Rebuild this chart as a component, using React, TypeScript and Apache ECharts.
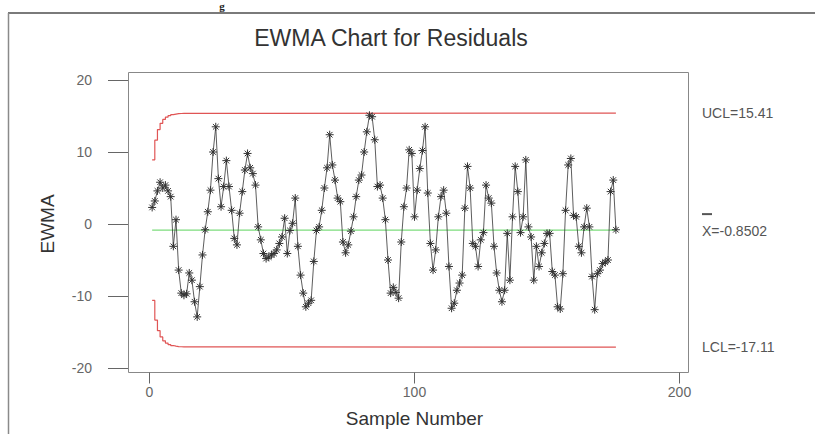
import React, { useEffect, useRef } from "react";
import * as echarts from "echarts";

// EWMA statistic per sample (samples 1..176)
const ewmaValues = [
  2.3, 3.2, 4.6, 5.8, 5.0, 5.4, 4.6, 3.8, -3.1, 0.6,
  -6.4, -9.6, -9.9, -9.7, -6.8, -7.8, -10.8, -12.9, -8.7, -4.3,
  -0.8, 1.7, 4.7, 10.0, 13.5, 6.3, 2.4, 5.2, 8.8, 5.2,
  1.9, -2.0, -2.9, 1.5, 4.5, 7.5, 9.8, 7.8, 7.0, 5.4,
  -0.4, -2.2, -4.1, -4.8, -4.6, -4.3, -4.1, -3.6, -2.7, -1.8,
  0.8, -4.1, -0.9, 0.1, 3.6, -3.1, -7.1, -9.6, -11.5, -11.0,
  -10.6, -5.2, -0.9, -0.4, 1.9, 5.0, 7.8, 12.4, 8.2, 6.1,
  3.6, 3.1, -2.5, -4.0, -2.9, -1.0, 1.0, 3.8, 6.1, 6.8,
  10.0, 12.8, 15.1, 14.9, 11.7, 5.2, 5.4, 3.6, 0.6, -5.0,
  -9.6, -8.8, -9.5, -10.3, -2.5, 2.4, 5.0, 10.3, 9.8, 1.0,
  4.7, 7.7, 10.2, 13.5, 4.3, -2.7, -6.4, -3.6, 1.0, 3.8,
  4.7, 1.5, -5.9, -11.7, -11.0, -9.2, -8.2, -7.1, 2.2, 8.0,
  5.0, -2.7, -3.1, -5.9, -2.2, -1.2, 5.4, 3.6, 2.9, -3.1,
  -6.8, -9.2, -10.8, -9.2, -1.3, -7.8, 1.0, 8.0, 4.5, -1.2,
  1.0, 8.9, -0.4, -1.8, -7.8, -3.1, -5.9, -4.0, -2.7, -1.3,
  -1.3, -6.6, -7.1, -11.5, -11.8, -6.9, 1.9, 8.2, 9.1, 1.2,
  1.0, -3.1, -4.0, -0.4, 2.2, -0.4, -7.3, -11.9, -6.9, -6.4,
  -5.5, -5.3, -5.0, 4.5, 6.1, -0.8,
];

const centerValue = -0.8502;
const uclValue = 15.41;
const lclValue = -17.11;
// control limits for the first samples (they widen towards the asymptotic limits)
const uclRamp = [8.91, 11.64, 13.12, 13.98, 14.52, 14.84, 15.05, 15.18, 15.26, 15.32, 15.35, 15.37];
const lclRamp = [-10.61, -13.34, -14.82, -15.68, -16.22, -16.54, -16.75, -16.88, -16.96, -17.02, -17.05, -17.07];

const xTickValues = [0, 100, 200];
const yTickValues = [-20, -10, 0, 10, 20];

const titleText = "EWMA Chart for Residuals";
const xName = "Sample Number";
const yName = "EWMA";
const uclLabel = "UCL=15.41";
const centerLabel = "X=-0.8502";
const lclLabel = "LCL=-17.11";

const FONT = '"Liberation Sans", Arial, sans-serif';
const ASTERISK = "path://M5,0L5,10M0,5L10,5M1.5,1.5L8.5,8.5M1.5,8.5L8.5,1.5";

export default function App() {
  const ref = useRef<HTMLDivElement | null>(null);

  useEffect(() => {
    if (!ref.current) return;
    const chart = echarts.init(ref.current, null, { renderer: "svg" });
    const n = ewmaValues.length;
    const dataPts = ewmaValues.map((v, i) => [i + 1, v]);
    const uclPts: number[][] = uclRamp.map((v, i) => [i + 1, v]);
    uclPts.push([uclRamp.length + 1, uclValue], [n, uclValue]);
    const lclPts: number[][] = lclRamp.map((v, i) => [i + 1, v]);
    lclPts.push([lclRamp.length + 1, lclValue], [n, lclValue]);
    const centerPts = [[1, centerValue], [n, centerValue]];

    chart.setOption({
      animation: false,
      backgroundColor: "#ffffff",
      title: {
        text: titleText,
        left: 386,
        top: 21,
        textAlign: "center",
        textStyle: { fontSize: 23, fontWeight: "normal", color: "#333", fontFamily: FONT },
      },
      grid: { left: 149.5, right: 135.5, top: 80, bottom: 66, show: false },
      xAxis: {
        type: "value",
        min: xTickValues[0],
        max: xTickValues[xTickValues.length - 1],
        interval: 100,
        offset: 4.5,
        axisLine: { show: false, onZero: false },
        axisTick: { show: true, length: 11, lineStyle: { color: "#666" } },
        axisLabel: { margin: 12, fontSize: 14, color: "#666", fontFamily: FONT },
        splitLine: { show: false },
        name: xName,
        nameLocation: "middle",
        nameGap: 36,
        nameTextStyle: { fontSize: 19, color: "#333", fontFamily: FONT },
      },
      yAxis: {
        type: "value",
        min: yTickValues[0],
        max: yTickValues[yTickValues.length - 1],
        interval: 10,
        offset: 21.5,
        axisLine: { show: false, onZero: false },
        axisTick: { show: true, length: 20, lineStyle: { color: "#666" } },
        axisLabel: { margin: 36, fontSize: 14, color: "#666", fontFamily: FONT },
        splitLine: { show: false },
        name: yName,
        nameLocation: "middle",
        nameGap: 71,
        nameTextStyle: { fontSize: 19, color: "#333", fontFamily: FONT },
      },
      series: [
        {
          type: "line",
          name: "UCL",
          data: uclPts,
          step: "end",
          showSymbol: false,
          lineStyle: { color: "#e05555", width: 1.2 },
          z: 1,
          silent: true,
        },
        {
          type: "line",
          name: "LCL",
          data: lclPts,
          step: "end",
          showSymbol: false,
          lineStyle: { color: "#e05555", width: 1.2 },
          z: 1,
          silent: true,
        },
        {
          type: "line",
          name: "Center",
          data: centerPts,
          showSymbol: false,
          lineStyle: { color: "#7ddc7d", width: 1.2 },
          z: 1,
          silent: true,
        },
        {
          type: "line",
          name: "EWMA",
          data: dataPts,
          symbol: ASTERISK,
          symbolSize: 8,
          showSymbol: true,
          showAllSymbol: true,
          lineStyle: { color: "#333", width: 0.8 },
          itemStyle: { color: "transparent", borderColor: "#333", borderWidth: 1 },
          z: 3,
        },
      ],
    });

    const py = (v: number) => (chart.convertToPixel({ gridIndex: 0 }, [0, v]) as number[])[1];
    const yU = py(uclValue);
    const yC = py(centerValue);
    const yL = py(lclValue);
    const labelStyle = { fontSize: 14, fontFamily: FONT, fill: "#555", align: "left", verticalAlign: "middle" };

    chart.setOption({
      graphic: [
        { type: "line", shape: { x1: 8, y1: 13, x2: 815, y2: 13 }, style: { stroke: "#7a7a7a", lineWidth: 2 }, silent: true },
        { type: "line", shape: { x1: 8.5, y1: 13, x2: 8.5, y2: 434 }, style: { stroke: "#8a8a8a", lineWidth: 1.5 }, silent: true },
        {
          type: "text",
          x: 222,
          y: 0,
          style: { text: "g", font: 'bold 11px "Liberation Serif", serif', fill: "#222", align: "center", verticalAlign: "top" },
          silent: true,
        },
        {
          type: "rect",
          shape: { x: 128.5, y: 72.5, width: 560, height: 300 },
          style: { fill: "none", stroke: "#888", lineWidth: 1 },
          silent: true,
        },
        { type: "text", x: 702, y: yU, style: { ...labelStyle, text: uclLabel }, silent: true },
        { type: "rect", shape: { x: 702, y: yC - 17, width: 10, height: 2 }, style: { fill: "#555" }, silent: true },
        { type: "text", x: 702, y: yC + 1, style: { ...labelStyle, text: centerLabel }, silent: true },
        { type: "text", x: 702, y: yL, style: { ...labelStyle, text: lclLabel }, silent: true },
      ],
    });

    return () => chart.dispose();
  }, []);

  return (
    <div
      ref={ref}
      style={{ position: "fixed", left: 0, top: 0, width: 815, height: 434, background: "#fff" }}
    />
  );
}
